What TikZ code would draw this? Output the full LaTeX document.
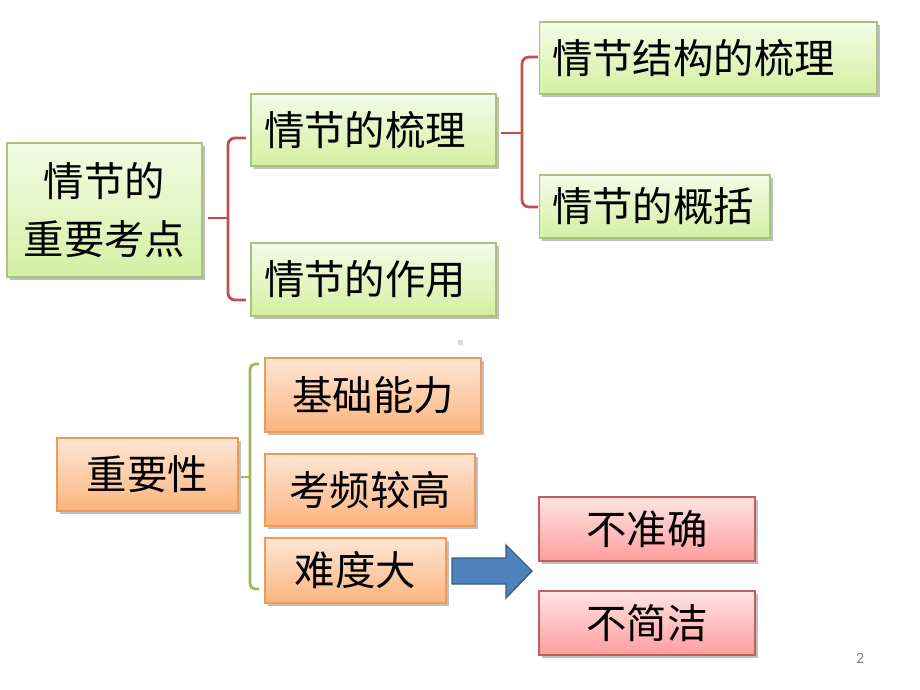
\documentclass[tikz,border=0pt]{standalone}
\usepackage{fontspec}
\setmainfont{Noto Sans CJK SC}
\newfontfamily\pagefont{Carlito}
\usepackage{xcolor}
\usetikzlibrary{positioning}
\usetikzlibrary{shadows}
\definecolor{greentop}{HTML}{F3FBE6}
\definecolor{greenbot}{HTML}{D4F0A2}
\definecolor{greenline}{HTML}{A9C27F}
\definecolor{orangetop}{HTML}{FDE6D4}
\definecolor{orangebot}{HTML}{FCB47E}
\definecolor{orangeline}{HTML}{EE9A5A}
\definecolor{pinktop}{HTML}{FFE3E3}
\definecolor{pinkbot}{HTML}{FF9E9E}
\definecolor{pinkline}{HTML}{C0605E}
\definecolor{bracered}{HTML}{C0504D}
\definecolor{bracegreen}{HTML}{9BBB59}
\definecolor{arrowblue}{HTML}{4F81BD}
\definecolor{arrowline}{HTML}{385D8A}
\tikzset{
  box/.style={draw, line width=0.6pt, inner xsep=0pt, inner ysep=0pt,
    font=\fontsize{23}{33}\selectfont,
    drop shadow={shadow xshift=1.5pt, shadow yshift=-1.5pt, opacity=0.25, fill=black}},
  greenbox/.style={box, draw=greenline, top color=greentop, bottom color=greenbot},
  orangebox/.style={box, draw=orangeline, top color=orangetop, bottom color=orangebot},
  pinkbox/.style={box, draw=pinkline, top color=pinktop, bottom color=pinkbot},
  leftbox/.style={align=left, inner xsep=0.26cm, text width=#1},
  redbrace/.style={draw=bracered, line width=1.6pt, rounded corners=4pt},
  greenbrace/.style={draw=bracegreen, line width=1.6pt, rounded corners=3pt}
}
\begin{document}
\begin{tikzpicture}[x=0.02cm, y=-0.02cm]
  \useasboundingbox[fill=white] (0,0) rectangle (920,690); %
  % upper part
  \node[greenbox, minimum width=3.9cm, minimum height=2.68cm, align=center] (root) at (104.5,210) {情节的\\重要考点}; %
  \node[greenbox, leftbox=4.38cm, minimum height=1.44cm] (liuli) at (373.5,130) {情节的梳理}; %
  \node[greenbox, leftbox=4.38cm, minimum height=1.46cm] (zuoyong) at (373.5,279.5) {情节的作用}; %
  \node[greenbox, leftbox=6.24cm, minimum height=1.44cm] (jiegou) at (708,58) {情节结构的梳理}; %
  \node[greenbox, leftbox=4.1cm, minimum height=1.26cm] (gaikuo) at (654.5,206.5) {情节的概括}; %
  \coordinate (rootbr) at (208,218); %
  \coordinate (liulibr) at (501,133); %
  \draw[redbrace] (rootbr) -- (228,218); %
  \draw[redbrace] (246,138) -- (228,138) -- (228,300) -- (246,300); %
  \draw[redbrace] (liulibr) -- (522,133); %
  \draw[redbrace] (538,57) -- (522,57) -- (522,207) -- (538,207); %
  % lower part
  \node[orangebox, minimum width=3.62cm, minimum height=1.46cm] (zhongyao) at (147.5,474.5) {重要性}; %
  \node[orangebox, minimum width=4.32cm, minimum height=1.48cm] (jichu) at (373,395) {基础能力}; %
  \node[orangebox, minimum width=4.2cm, minimum height=1.44cm] (pinlv) at (370,490) {考频较高}; %
  \node[orangebox, minimum width=3.62cm, minimum height=1.3cm] (nandu) at (355.5,570.5) {难度大}; %
  \node[pinkbox, minimum width=4.32cm, minimum height=1.28cm] (buzhun) at (647,529) {不准确}; %
  \node[pinkbox, minimum width=4.32cm, minimum height=1.28cm] (bujian) at (647,623) {不简洁}; %
  \coordinate (zhongbr) at (241,477); %
  \draw[greenbrace] (zhongbr) -- (250,477); %
  \draw[greenbrace] (259,364) -- (250,364) -- (250,589) -- (259,589); %
  \draw[fill=arrowblue, draw=arrowline, line width=0.8pt]
    (452,558) -- (506,558) -- (506,545) -- (532,571) -- (506,598) -- (506,584) -- (452,584) -- cycle; %
  \fill[gray!30] (458,340) rectangle (463,345); %
  \node[text=gray, font=\pagefont\fontsize{9}{10}\selectfont] (page) at (860,658) {2}; %
\end{tikzpicture}
\end{document}
